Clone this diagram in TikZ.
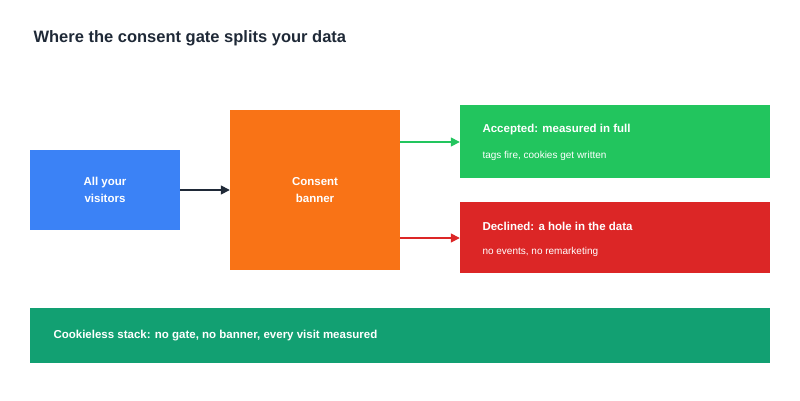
\documentclass[tikz,border=0pt]{standalone}
\usepackage{fontspec}
\setmainfont{Liberation Sans}
\usepackage{xcolor}
\usetikzlibrary{arrows.meta}
\definecolor{ink}{HTML}{1F2937}
\definecolor{visitors}{HTML}{3B82F6}
\definecolor{banner}{HTML}{F97316}
\definecolor{accepted}{HTML}{22C55E}
\definecolor{declined}{HTML}{DC2626}
\definecolor{cookieless}{HTML}{12A072}
\tikzstyle{box}=[draw=none, inner sep=0pt, text=white, font=\bfseries\fontsize{11.5}{17}\selectfont, align=center]
\tikzstyle{flow}=[-{Triangle[length=9pt,width=9pt]}, line width=1.5pt]
\begin{document}
\begin{tikzpicture}[x=1pt,y=-1pt]
  \useasboundingbox (0,0) rectangle (800,400);
  \node[anchor=west,text=ink,font=\bfseries\fontsize{16.5}{20}\selectfont] (title) at (30,38) {Where the consent gate splits your data};

  \node[box,fill=visitors,minimum width=150pt,minimum height=80pt] (all) at (105,190) {All your\\visitors};
  \node[box,fill=banner,minimum width=170pt,minimum height=160pt] (gate) at (315,190) {Consent\\banner};
  \node[box,fill=accepted,minimum width=310pt,minimum height=73pt] (yes) at (615,141.5) {};
  \node[box,fill=declined,minimum width=310pt,minimum height=71pt] (no) at (615,237.5) {};
  \node[box,fill=cookieless,minimum width=740pt,minimum height=55pt] (stack) at (400,335.5) {};

  %% Texts in the outcome boxes
  \node[anchor=west,text=white,font=\bfseries\fontsize{11.5}{14}\selectfont] (yestitle) at (479,130) {Accepted: measured in full};
  \node[anchor=west,text=white,font=\fontsize{10}{12}\selectfont] (yesnote) at (479,156) {tags fire, cookies get written};
  \node[anchor=west,text=white,font=\bfseries\fontsize{11.5}{14}\selectfont] (notitle) at (479,226) {Declined: a hole in the data};
  \node[anchor=west,text=white,font=\fontsize{10}{12}\selectfont] (nonote) at (479,252) {no events, no remarketing};
  \node[anchor=west,text=white,font=\bfseries\fontsize{11.5}{14}\selectfont] (stacktext) at (50,335.5) {Cookieless stack: no gate, no banner, every visit measured};

  \draw[flow,color=ink] (all.east) -- (gate.west);
  \draw[flow,color=accepted] (gate.east |- 0,142) -- (yes.west |- 0,142);
  \draw[flow,color=declined] (gate.east |- 0,238) -- (no.west |- 0,238);
\end{tikzpicture}
\end{document}
